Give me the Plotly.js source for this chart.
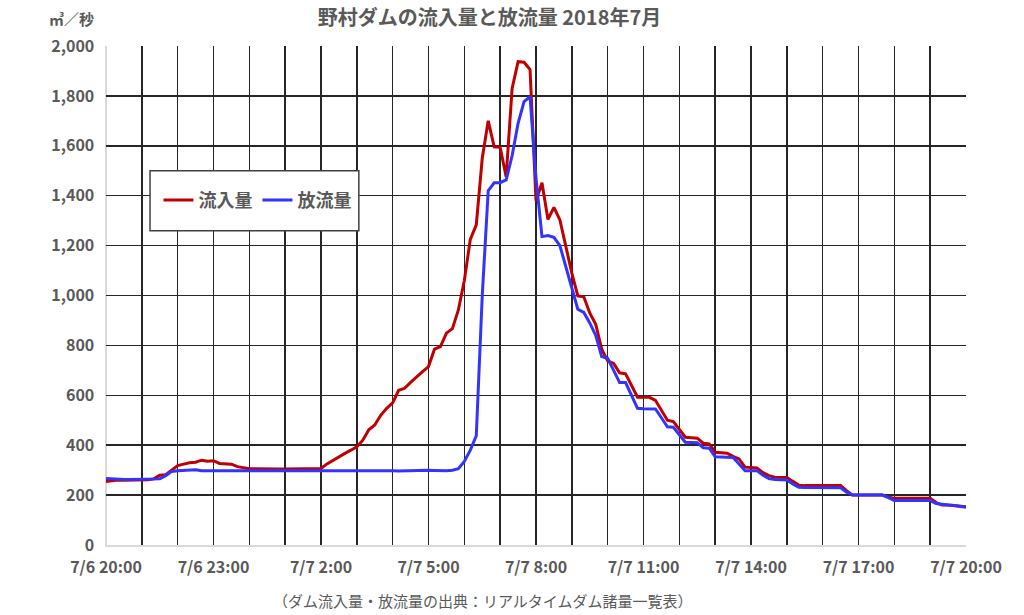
<!DOCTYPE html>
<html>
<head>
<meta charset="utf-8">
<script src="https://cdn.plot.ly/plotly-3.0.1.min.js"></script>
<style>html,body{margin:0;padding:0;background:#fff;}#chart{width:1024px;height:615px;}</style>
</head>
<body>
<div id="chart"></div>
<script>
// 10-minute readings, 2018-07-06 20:00 to 2018-07-07 20:00
const stepMinutes = 10;

const inflow = [
  254, 258, 260, 260, 260, 260, 262, 262, 265, 280,
  282, 300, 318, 324, 330, 332, 340, 336, 338, 327,
  326, 324, 314, 310, 306, 306, 305, 305, 305, 305,
  305, 305, 305, 305, 305, 304, 307, 325, 340, 352,
  367, 380, 394, 420, 462, 481, 520, 548, 570, 620,
  628, 652, 675, 695, 715, 785, 795, 849, 867, 942,
  1060, 1225, 1283, 1550, 1700, 1596, 1594, 1476, 1830, 1937,
  1935, 1906, 1380, 1452, 1305, 1353, 1303, 1190, 1090, 998,
  995, 930, 885, 785, 738, 728, 690, 686, 640, 592,
  592, 592, 580, 540, 500, 495, 465, 432, 430, 428,
  408, 405, 372, 370, 368, 355, 345, 312, 310, 309,
  290, 278, 272, 271, 271, 255, 240, 238, 238, 238,
  238, 238, 238, 238, 218, 200, 200, 200, 200, 200,
  200, 193, 187, 187, 187, 187, 187, 187, 187, 170,
  160, 160, 158, 156, 153
];

const outflow = [
  267, 265, 263, 263, 263, 263, 263, 263, 263, 265,
  278, 295, 298, 299, 300, 302, 298, 298, 298, 299,
  299, 300, 299, 299, 300, 300, 301, 300, 300, 299,
  299, 300, 300, 300, 298, 298, 298, 299, 299, 300,
  300, 300, 301, 299, 298, 299, 298, 299, 298, 297,
  298, 298, 299, 298, 300, 299, 298, 298, 300, 306,
  335, 380, 438, 1000, 1420, 1452, 1452, 1463, 1560, 1690,
  1777, 1797, 1470, 1236, 1240, 1233, 1200, 1110, 1030, 945,
  932, 890, 840, 755, 748, 700, 651, 651, 600, 548,
  546, 546, 545, 510, 474, 472, 440, 412, 411, 410,
  390, 388, 354, 354, 352, 351, 325, 298, 298, 298,
  280, 266, 263, 262, 261, 245, 231, 230, 230, 229,
  229, 229, 229, 229, 212, 200, 200, 200, 200, 200,
  200, 190, 178, 178, 178, 178, 178, 178, 178, 166,
  162, 160, 158, 156, 151
];

// hourly grid positions; labels every third hour
const tickVals = [
  '2018-07-06 20:00','2018-07-06 21:00','2018-07-06 22:00','2018-07-06 23:00',
  '2018-07-07 00:00','2018-07-07 01:00','2018-07-07 02:00','2018-07-07 03:00',
  '2018-07-07 04:00','2018-07-07 05:00','2018-07-07 06:00','2018-07-07 07:00',
  '2018-07-07 08:00','2018-07-07 09:00','2018-07-07 10:00','2018-07-07 11:00',
  '2018-07-07 12:00','2018-07-07 13:00','2018-07-07 14:00','2018-07-07 15:00',
  '2018-07-07 16:00','2018-07-07 17:00','2018-07-07 18:00','2018-07-07 19:00',
  '2018-07-07 20:00'
];
const tickText = [
  '7/6 20:00','','','7/6 23:00','','','7/7 2:00','','','7/7 5:00','','',
  '7/7 8:00','','','7/7 11:00','','','7/7 14:00','','','7/7 17:00','','',
  '7/7 20:00'
];

const seriesNames = ['流入量', '放流量'];
const chartTitle = '野村ダムの流入量と放流量 2018年7月';
const unitLabel = '㎥／秒';
const sourceNote = '（ダム流入量・放流量の出典：リアルタイムダム諸量一覧表）';

function pad(n){ return (n < 10 ? '0' : '') + n; }
function timeAt(i){
  const m = 20 * 60 + i * stepMinutes;
  const day = 6 + Math.floor(m / 1440);
  const mm = m % 1440;
  return '2018-07-' + pad(day) + ' ' + pad(Math.floor(mm / 60)) + ':' + pad(mm % 60);
}
const times = inflow.map((_, i) => timeAt(i));

const FONT = '"Noto Sans CJK JP", "Noto Sans", sans-serif';
const TXT = '#595959';
const GRID = '#262626';

const traces = [
  {x: times, y: inflow, name: seriesNames[0], type: 'scatter', mode: 'lines',
   line: {color: '#c00000', width: 3}},
  {x: times, y: outflow, name: seriesNames[1], type: 'scatter', mode: 'lines',
   line: {color: '#3333ff', width: 3}}
];

const layout = {
  width: 1024, height: 615,
  margin: {l: 106, r: 58, t: 46, b: 70},
  paper_bgcolor: '#fff', plot_bgcolor: '#fff',
  font: {family: FONT, color: TXT},
  title: {text: chartTitle, x: 0.478, xanchor: 'center', y: 0.971, yanchor: 'middle',
          font: {family: FONT, size: 20, weight: 'bold', color: TXT}},
  xaxis: {
    type: 'date',
    range: ['2018-07-06 20:00', '2018-07-07 20:00'],
    tickmode: 'array', tickvals: tickVals, ticktext: tickText,
    showgrid: true, gridcolor: GRID, gridwidth: 1.5,
    showline: true, linecolor: '#d9d9d9', linewidth: 1.5,
    ticks: '', ticklabelstandoff: 7,
    tickfont: {family: FONT, size: 16, weight: 'bold', color: TXT},
    fixedrange: true
  },
  yaxis: {
    range: [0, 2000], dtick: 200, tickformat: ',d',
    showgrid: true, gridcolor: GRID, gridwidth: 1.5,
    zeroline: true, zerolinecolor: '#d9d9d9', zerolinewidth: 1.5,
    showline: true, linecolor: '#d9d9d9', linewidth: 1.5,
    ticks: '', ticklabelstandoff: 7,
    tickfont: {family: FONT, size: 16, weight: 'bold', color: TXT},
    fixedrange: true
  },
  showlegend: true,
  legend: {
    orientation: 'h', x: 0.061, y: 0.728, xanchor: 'left', yanchor: 'top',
    bgcolor: 'rgba(0,0,0,0)', borderwidth: 0,
    font: {family: FONT, size: 18, weight: 'bold', color: TXT},
    itemwidth: 30, tracegroupgap: 0
  },
  shapes: [
    {type: 'line', xref: 'x', yref: 'paper', x0: '2018-07-06 20:00', x1: '2018-07-06 20:00', y0: 0, y1: 1,
     line: {color: '#d9d9d9', width: 2}, layer: 'between'},
    {type: 'rect', xref: 'paper', yref: 'paper', x0: 0.0512, x1: 0.294, y0: 0.630, y1: 0.750,
     fillcolor: '#fff', line: {color: '#404040', width: 1.5}, layer: 'above'}
  ],
  annotations: [
    {text: unitLabel, xref: 'paper', yref: 'paper', x: -0.04, y: 1.056, xanchor: 'center', yanchor: 'middle',
     showarrow: false, font: {family: FONT, size: 15, weight: 'bold', color: TXT}},
    {text: sourceNote, xref: 'paper', yref: 'paper', x: 0.438, y: -0.112, xanchor: 'center', yanchor: 'middle',
     showarrow: false, font: {family: FONT, size: 15, color: TXT}}
  ]
};

Plotly.newPlot('chart', traces, layout, {displayModeBar: false, staticPlot: true});
</script>
</body>
</html>
